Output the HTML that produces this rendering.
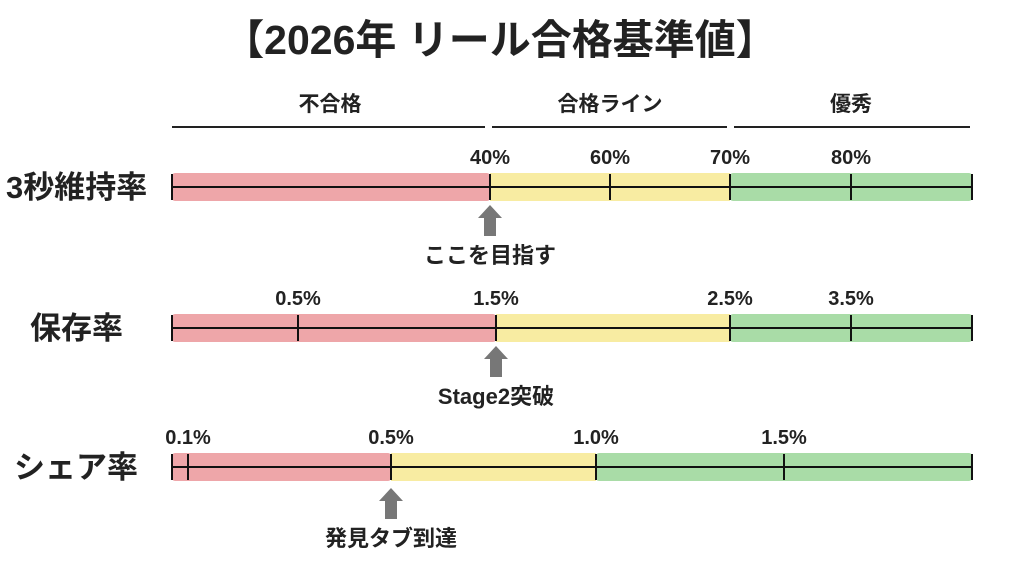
<!DOCTYPE html>
<html><head><meta charset="utf-8"><style>
body{margin:0;background:#fff;}
svg text{font-family:"Liberation Sans","Noto Sans CJK JP",sans-serif;font-weight:bold;fill:#222;}
</style></head><body>
<svg width="1024" height="565" xmlns="http://www.w3.org/2000/svg">
<rect width="1024" height="565" fill="#fff"/>
<text x="500" y="54" font-size="41" text-anchor="middle">【2026年 リール合格基準値】</text>
<g font-size="21" text-anchor="middle">
<text x="330" y="111">不合格</text><text x="610" y="111">合格ライン</text><text x="851" y="111">優秀</text></g>
<g stroke="#222" stroke-width="2">
<line x1="172" y1="127" x2="485" y2="127"/><line x1="492" y1="127" x2="727" y2="127"/><line x1="734" y1="127" x2="970" y2="127"/></g>
<g font-size="31">
<text x="6" y="198">3秒維持率</text><text x="30" y="339">保存率</text><text x="14" y="478">シェア率</text></g>
<!-- row1 -->
<rect x="172" y="173" width="318" height="28" fill="#eea6a9" rx="3"/>
<rect x="490" y="173" width="240" height="28" fill="#f8eca2"/>
<rect x="730" y="173" width="242" height="28" fill="#a9dca7" rx="3"/>
<g stroke="#111" stroke-width="2"><line x1="172" y1="187" x2="972" y2="187"/>
<line x1="172" y1="174" x2="172" y2="200"/><line x1="490" y1="174" x2="490" y2="200"/><line x1="610" y1="174" x2="610" y2="200"/><line x1="730" y1="174" x2="730" y2="200"/><line x1="851" y1="174" x2="851" y2="200"/><line x1="972" y1="174" x2="972" y2="200"/></g>
<g font-size="20" text-anchor="middle"><text x="490" y="164">40%</text><text x="610" y="164">60%</text><text x="730" y="164">70%</text><text x="851" y="164">80%</text></g>
<polygon points="490,205 502,218 496,218 496,236 484,236 484,218 478,218" fill="#777"/>
<text x="490" y="263" font-size="22" text-anchor="middle">ここを目指す</text>
<!-- row2 -->
<rect x="172" y="314" width="324" height="28" fill="#eea6a9" rx="3"/>
<rect x="496" y="314" width="234" height="28" fill="#f8eca2"/>
<rect x="730" y="314" width="242" height="28" fill="#a9dca7" rx="3"/>
<g stroke="#111" stroke-width="2"><line x1="172" y1="328" x2="972" y2="328"/>
<line x1="172" y1="315" x2="172" y2="341"/><line x1="298" y1="315" x2="298" y2="341"/><line x1="496" y1="315" x2="496" y2="341"/><line x1="730" y1="315" x2="730" y2="341"/><line x1="851" y1="315" x2="851" y2="341"/><line x1="972" y1="315" x2="972" y2="341"/></g>
<g font-size="20" text-anchor="middle"><text x="298" y="305">0.5%</text><text x="496" y="305">1.5%</text><text x="730" y="305">2.5%</text><text x="851" y="305">3.5%</text></g>
<polygon points="496,346 508,359 502,359 502,377 490,377 490,359 484,359" fill="#777"/>
<text x="496" y="404" font-size="22" text-anchor="middle">Stage2突破</text>
<!-- row3 -->
<rect x="172" y="453" width="219" height="28" fill="#eea6a9" rx="3"/>
<rect x="391" y="453" width="205" height="28" fill="#f8eca2"/>
<rect x="596" y="453" width="376" height="28" fill="#a9dca7" rx="3"/>
<g stroke="#111" stroke-width="2"><line x1="172" y1="467" x2="972" y2="467"/>
<line x1="172" y1="454" x2="172" y2="480"/><line x1="188" y1="454" x2="188" y2="480"/><line x1="391" y1="454" x2="391" y2="480"/><line x1="596" y1="454" x2="596" y2="480"/><line x1="784" y1="454" x2="784" y2="480"/><line x1="972" y1="454" x2="972" y2="480"/></g>
<g font-size="20" text-anchor="middle"><text x="188" y="444">0.1%</text><text x="391" y="444">0.5%</text><text x="596" y="444">1.0%</text><text x="784" y="444">1.5%</text></g>
<polygon points="391,488 403,501 397,501 397,519 385,519 385,501 379,501" fill="#777"/>
<text x="391" y="546" font-size="22" text-anchor="middle">発見タブ到達</text>
</svg>
</body></html>
